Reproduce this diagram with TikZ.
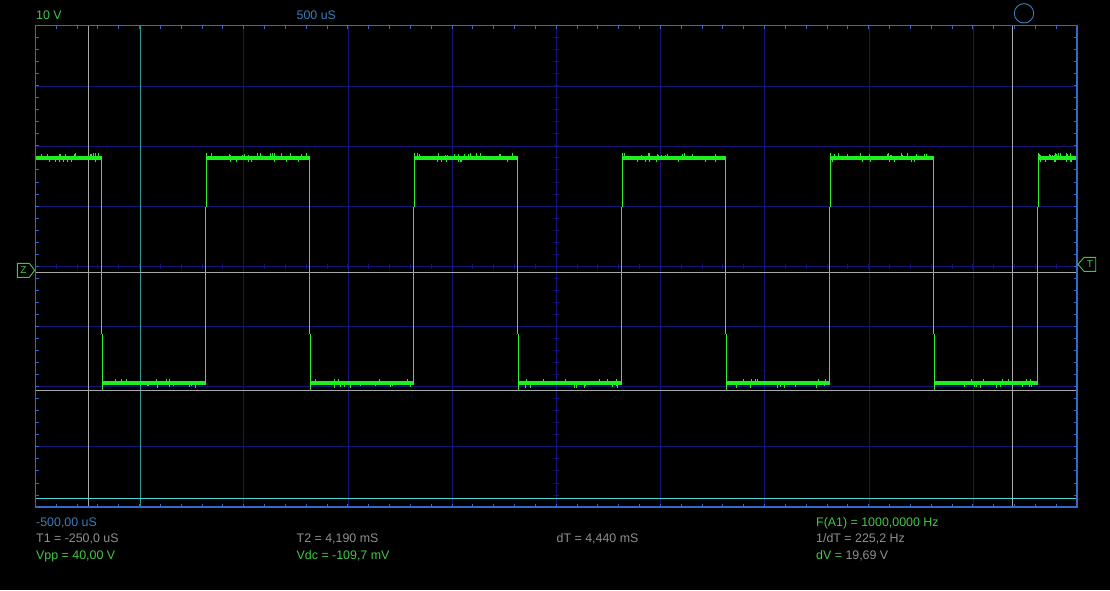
\documentclass[tikz,border=0pt]{standalone}
\usepackage{fontspec}
\setmainfont{Liberation Sans}
\definecolor{framec}{HTML}{3A66CC}
\definecolor{gridc}{HTML}{141478}
\definecolor{cursg}{HTML}{A8A8A8}
\definecolor{cursc}{HTML}{2E9A9A}
\definecolor{cursh}{HTML}{48D4D4}
\definecolor{bandc}{HTML}{1EF01E}
\definecolor{edgec}{HTML}{30F030}
\definecolor{txtg}{HTML}{44C844}
\definecolor{txtgray}{HTML}{909090}
\definecolor{txtb}{HTML}{3C7CBC}
\tikzset{
  gridline/.style={draw=gridc, line width=1pt},
  tick/.style={draw=gridc, line width=1pt},
  frametick/.style={draw=framec, line width=1pt},
  gcursor/.style={draw=cursg, line width=1pt},
  band/.style={fill=bandc},
  edgeline/.style={draw=edgec, line width=1.5pt},
  lbl/.style={anchor=base west, inner sep=0pt, font=\fontsize{12.4}{14}\selectfont},
  marker/.style={draw=txtg, line width=0.9pt},
}
\begin{document}
\begin{tikzpicture}[x=1pt,y=-1pt]
\fill[black] (0,0) rectangle (1110,590);
\useasboundingbox (0,0) rectangle (1110,590);
% grid
\foreach \gx in {140.5,243.5,348.5,452.5,556.5,660.5,764.5,869.5,973.5}
  \draw[gridline] (\gx,25.5) -- (\gx,507);
\foreach \gy in {86.5,146.5,206.5,266.5,326.5,386.5,446.5}
  \draw[gridline] (35.5,\gy) -- (1077,\gy);
% ticks
\foreach \k in {1,...,49}{
  \pgfmathsetmacro\tx{floor(35.5+20.83*\k)+0.5}
  \draw[frametick] (\tx,25.5) -- ++(0,3);
  \draw[frametick] (\tx,507) -- ++(0,-3);
  \draw[tick] (\tx,264) -- ++(0,5);
}
\foreach \k in {1,...,39}{
  \pgfmathsetmacro\ty{floor(25.5+12.04*\k)+0.5}
  \draw[frametick] (35.5,\ty) -- ++(3,0);
  \draw[frametick] (1077,\ty) -- ++(-3,0);
  \draw[tick] (554,\ty) -- ++(5,0);
}
% cursors
\draw[gcursor] (88.5,25.5) -- (88.5,507);
\draw[gcursor] (1012.5,25.5) -- (1012.5,507);
\draw[draw=cursc, line width=1pt] (140.5,25.5) -- (140.5,507);
\draw[gcursor] (35.5,272.5) -- (1077,272.5);
\draw[gcursor] (35.5,390.5) -- (1077,390.5);
\draw[draw=cursh, line width=1pt] (35.5,498.5) -- (1077,498.5);
% trace
\pgfmathsetseed{4217}
\foreach \a/\b in {36/101.5,206.5/309.5,414.5/517.5,622.5/725.5,830.5/933.5,1038.5/1076}{
  \fill[band] (\a,156) rectangle (\b,160);
  \foreach \n in {1,...,16}{
    \pgfmathsetmacro\xx{floor(\a+rnd*(\b-\a-1))}
    \pgfmathsetmacro\hh{round(1+rnd*2.4)}
    \fill[band] (\xx,156) rectangle ++(1,-\hh);
  }
  \foreach \n in {1,...,7}{
    \pgfmathsetmacro\xx{floor(\a+rnd*(\b-\a-1))}
    \fill[band] (\xx,160) rectangle ++(1,2);
  }
}
\foreach \a/\b in {102.5/206,310.5/414,518.5/622,726.5/830,934.5/1038}{
  \fill[band] (\a,381) rectangle (\b,385);
  \foreach \n in {1,...,9}{
    \pgfmathsetmacro\xx{floor(\a+rnd*(\b-\a-1))}
    \pgfmathsetmacro\hh{round(1+rnd*2.2)}
    \fill[band] (\xx,385) rectangle ++(1,\hh);
  }
  \foreach \n in {1,...,6}{
    \pgfmathsetmacro\xx{floor(\a+rnd*(\b-\a-1))}
    \fill[band] (\xx,381) rectangle ++(1,-2);
  }
}
\foreach \f in {101.5,309.5,517.5,725.5,933.5}{
  \draw[edgeline] (\f,157) -- (\f,334);
  \draw[edgeline] ({\f+1},334) -- ({\f+1},389.5);
}
\foreach \r in {205.5,413.5,621.5,829.5,1037.5}{
  \draw[edgeline] (\r,384) -- (\r,207);
  \draw[edgeline] ({\r+1},207) -- ({\r+1},152.5);
}
% frame
\draw[draw=framec, line width=1.6pt] (35.5,25.5) rectangle (1077,507);
% markers
\draw[marker] (17.3,263.3) -- (29.3,263.3) -- (34.7,270.3) -- (29.3,277.3) -- (17.3,277.3) -- cycle;
\node[inner sep=0pt, text=txtg, font=\fontsize{10}{10}\selectfont] (zmark) at (23.4,270.4) {Z};
\draw[marker] (1078,264.3) -- (1084,257.3) -- (1095.7,257.3) -- (1095.7,271.3) -- (1084,271.3) -- cycle;
\node[inner sep=0pt, text=txtg, font=\fontsize{10}{10}\selectfont] (tmark) at (1089.9,264.4) {T};
\node[circle, draw=txtb, line width=0.9pt, minimum size=19.4pt, inner sep=0pt] (ind) at (1024,13.3) {};
% labels
\node[lbl, text=txtg] (vdiv) at (36,19) {10 V};
\node[lbl, text=txtb] (tdiv) at (296.5,19) {500 uS};
\node[lbl, text=txtb] (tpos) at (36,526) {-500,00 uS};
\node[lbl, text=txtgray] (t1) at (36,542.6) {T1 = -250,0 uS};
\node[lbl, text=txtg] (vpp) at (36,559.4) {Vpp = 40,00 V};
\node[lbl, text=txtgray] (t2) at (296.5,542.6) {T2 = 4,190 mS};
\node[lbl, text=txtg] (vdc) at (296.5,559.4) {Vdc = -109,7 mV};
\node[lbl, text=txtgray] (dt) at (556.5,542.6) {dT = 4,440 mS};
\node[lbl, text=txtg] (fa) at (816,526) {F(A1) = 1000,0000 Hz};
\node[lbl, text=txtgray] (idt) at (816,542.6) {1/dT = 225,2 Hz};
\node[lbl, text=txtg] (dv) at (816,559.4) {dV = \textcolor{txtgray}{19,69 V}};
\end{tikzpicture}
\end{document}
